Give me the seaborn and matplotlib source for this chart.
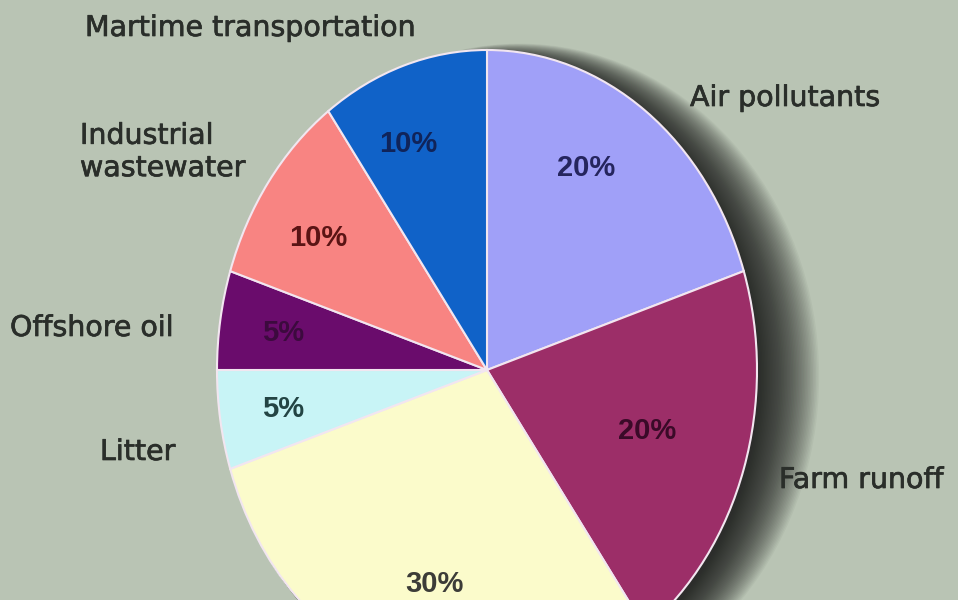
import matplotlib
matplotlib.use("Agg")
import matplotlib.pyplot as plt
import matplotlib.patheffects as pe
from matplotlib.patches import Ellipse
import seaborn as sns

# slices, clockwise from 12 o'clock
sources = ["Air pollutants", "Farm runoff", "", "Litter", "Offshore oil",
           "Industrial\nwastewater", "Martime transportation"]
shares = [20, 20, 30, 5, 5, 10, 10]
pct_labels = ["20%", "20%", "30%", "5%", "5%", "10%", "10%"]

slice_colors = ["#a0a0f8", "#9c2e68", "#fbfbcb", "#c8f4f6", "#6a0c6c", "#f88482", "#1062c8"]
pct_colors = ["#25255e", "#3a0a28", "#3c3c38", "#234444", "#3c0a3e", "#5a1414", "#10245a"]

# text placement in figure pixels (x from left, y from top)
source_pos = [(690, 98), (779, 480), None, (100, 452), (10, 328), (80, 152), (85, 28)]
pct_pos = [(586, 168), (647, 431), (434, 584), (283, 409), (283, 333), (318, 238), (408, 144)]

W, H = 958, 600
CX, CY, RX, RY = 487, 370, 270, 320

sns.set_theme(style="white")
plt.rcParams["font.family"] = ["DejaVu Sans"]

fig = plt.figure(figsize=(W / 100, H / 100), dpi=100)
fig.patch.set_facecolor("#b9c4b4")
ax = fig.add_axes([0, 0, 1, 1])
ax.set_facecolor("#b9c4b4")

# soft shadow behind the pie, thrown to the right (left edge stays hidden)
n = 40
for i in range(n):
    t = i / (n - 1)
    sx = 1.0 + 0.11 * t
    sy = 0.99 + 0.05 * t
    ax.add_patch(Ellipse((sx - 0.99, -0.02), 2 * sx, 2 * sy, color="#151515",
                         alpha=0.04, lw=0, zorder=0))

wedges, _ = ax.pie(shares, colors=slice_colors, startangle=90, counterclock=False,
                   wedgeprops=dict(edgecolor="#f2e6f0", linewidth=1.5))
for w in wedges:
    w.set_zorder(2)

ax.set_aspect("auto")
ax.set_xlim(-CX / RX, (W - CX) / RX)
ax.set_ylim(-(H - CY) / RY, CY / RY)
ax.axis("off")

for name, pos in zip(sources, source_pos):
    if pos is None:
        continue
    x, y = pos
    fig.text(x / W, 1 - y / H, name, ha="left", va="center", fontsize=20.5,
             color="#2a2e2a", linespacing=1.2,
             path_effects=[pe.withStroke(linewidth=0.5, foreground="#2a2e2a")])

for txt, (x, y), c in zip(pct_labels, pct_pos, pct_colors):
    fig.text(x / W, 1 - y / H, txt, ha="center", va="center", fontsize=21,
             fontweight="bold", color=c, family="Liberation Sans")

fig.savefig("out.png", dpi=100, facecolor=fig.get_facecolor())
